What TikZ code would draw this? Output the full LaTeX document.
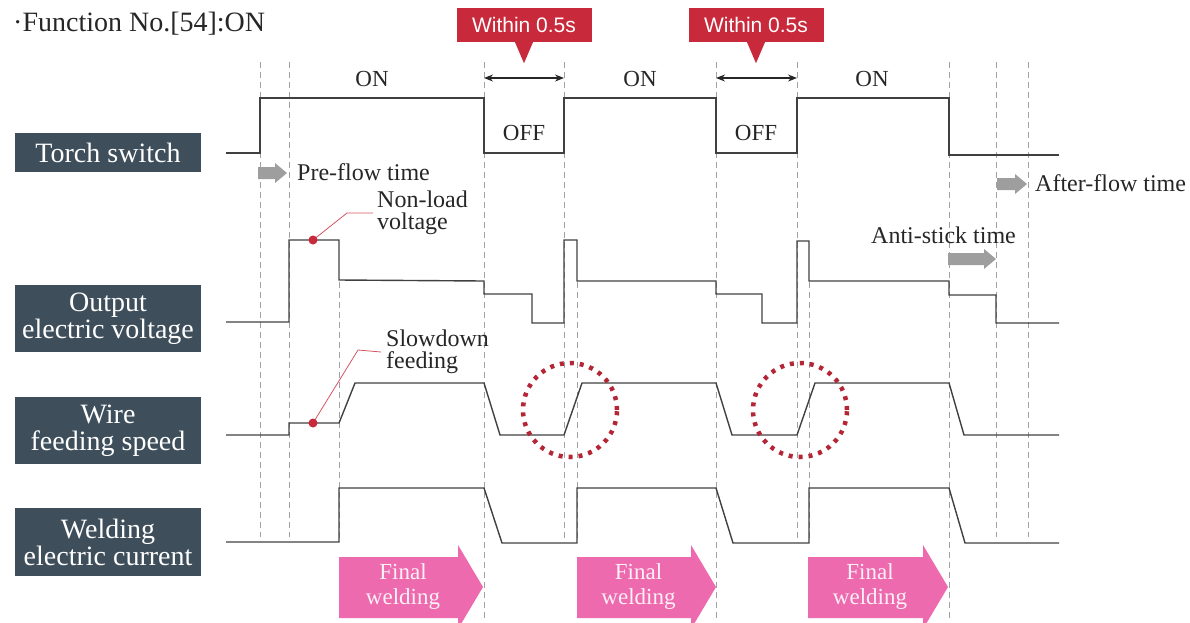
\documentclass[tikz,border=0pt]{standalone}
\usepackage{fontspec}
\setmainfont{Liberation Serif}
\newfontfamily\calloutfont{Liberation Sans}
\usetikzlibrary{arrows.meta,positioning}

\definecolor{slate}{HTML}{3E4E5A}
\definecolor{wred}{HTML}{C82A3C}
\definecolor{wpink}{HTML}{EE6AAE}
\definecolor{wave}{HTML}{404040}
\definecolor{tgrey}{HTML}{A0A0A0}

\tikzset{
  lbl/.style={fill=slate, text=white, align=center, minimum width=186pt, inner sep=0pt, font=\fontsize{28}{27}\selectfont},
  sig/.style={wave, line width=1.4pt},
  tline/.style={tgrey, line width=0.9pt, dash pattern=on 6pt off 4pt},
  txt/.style={inner sep=0pt, text=black!85, font=\fontsize{24}{22}\selectfont},
  warnbox/.style={fill=wred, text=white, minimum width=135pt, minimum height=34pt, inner sep=0pt, font=\calloutfont\fontsize{21}{21}\selectfont},
  garrow/.style={fill=black!38},
  fwtext/.style={text=white!90!wpink, align=center, inner sep=0pt, font=\fontsize{23}{25}\selectfont},
  leadline/.style={draw=wred!80, line width=0.8pt},
  ring/.style={draw=wred!90!black, line width=4.5pt, dash pattern=on 4pt off 6pt},
  twohead/.style={{Stealth[length=9pt,width=7pt]}-{Stealth[length=9pt,width=7pt]}, line width=1.2pt, black!85},
}

\begin{document}
\begin{tikzpicture}[x=1pt,y=-1pt]
\useasboundingbox (0,0) rectangle (1190,622);

\node[txt, anchor=base west, font=\fontsize{28}{28}\selectfont] (title) at (13,31) {·Function No.[54]:ON};

% signal names
\node[lbl, minimum height=39pt] (torch) at (108,152.5) {Torch switch};
\node[lbl, minimum height=67pt] (voltage) at (108,318.5) {Output\\electric voltage};
\node[lbl, minimum height=67pt] (wire) at (108,430.5) {Wire\\feeding speed};
\node[lbl, minimum height=68pt] (current) at (108,542) {Welding\\electric current};

% time marks
\foreach \x/\ya/\yb in {260/62/537, 289/62/537, 339/282/542, 484/62/620, 564/62/542, 577/282/542,
                        716/62/620, 797/62/542, 809/282/542, 949/62/620, 996/62/537, 1028/62/537}
  \draw[tline] (\x,\ya) -- (\x,\yb);

% final welding arrows
\foreach \xa/\xb [count=\i] in {339/483, 577/716, 808/948} {
  \fill[wpink] (\xa,557) -- (\xb-25,557) -- (\xb-25,545) -- (\xb,587) -- (\xb-25,629) -- (\xb-25,618) -- (\xa,618) -- cycle;
  \node[fwtext] (final\i) at ({(\xa+\xb)/2-8},586) {Final\\welding};
}

% waveforms
\draw[sig] (226,153) -- (260,153) -- (260,98) -- (484,98) -- (484,153) -- (564,153) -- (564,98) -- (716,98)
  -- (716,153) -- (797,153) -- (797,98) -- (949,98) -- (949,155) -- (1059,155);
\draw[sig] (226,322) -- (289,322) -- (289,240) -- (339,240) -- (339,280) -- (484,281) -- (484,294) -- (532,294)
  -- (532,323) -- (564,323) -- (564,240) -- (577,240) -- (577,281) -- (716,281) -- (716,294) -- (762,294)
  -- (762,323) -- (797,323) -- (797,241) -- (809,241) -- (809,281) -- (949,281) -- (949,295) -- (996,295)
  -- (996,323) -- (1059,323);
\draw[sig] (226,435) -- (289,435) -- (289,423) -- (339,423) -- (355,383) -- (484,383) -- (500,435) -- (564,435)
  -- (582,383) -- (716,383) -- (732,435) -- (797,435) -- (815,383) -- (949,383) -- (964,435) -- (1059,435);
\draw[sig] (226,542) -- (339,542) -- (339,488) -- (484,488) -- (502,543) -- (577,543) -- (577,488) -- (716,488)
  -- (733,543) -- (809,543) -- (809,488) -- (949,488) -- (965,543) -- (1059,543);

% on / off
\node[txt, font=\fontsize{23}{23}\selectfont] (on1) at (372,79) {ON};
\node[txt, font=\fontsize{23}{23}\selectfont] (on2) at (640,79) {ON};
\node[txt, font=\fontsize{23}{23}\selectfont] (on3) at (872,79) {ON};
\node[txt, font=\fontsize{23}{23}\selectfont] (off1) at (524,133) {OFF};
\node[txt, font=\fontsize{23}{23}\selectfont] (off2) at (756,133) {OFF};

\coordinate (off1l) at (484,78);
\coordinate (off1r) at (564,78);
\coordinate (off2l) at (716,78);
\coordinate (off2r) at (797,78);
\draw[twohead] (off1l) -- (off1r);
\draw[twohead] (off2l) -- (off2r);

\node[warnbox] (within1) at (524,25) {Within 0.5s};
\node[warnbox] (within2) at (756,25) {Within 0.5s};
\fill[wred] ([xshift=-9pt]within1.south) -- ([xshift=9pt]within1.south) -- ([yshift=-21pt]within1.south) -- cycle;
\fill[wred] ([xshift=-9pt]within2.south) -- ([xshift=9pt]within2.south) -- ([yshift=-21pt]within2.south) -- cycle;

% timings
\foreach \xa/\xb/\y in {258/287/173, 997/1027/184, 948/996/259}
  \fill[garrow] (\xa,\y-6) -- (\xb-12,\y-6) -- (\xb-12,\y-10) -- (\xb,\y) -- (\xb-12,\y+10) -- (\xb-12,\y+6) -- (\xa,\y+6) -- cycle;
\node[txt, anchor=west] (preflow) at (297,172) {Pre-flow time};
\node[txt, anchor=west] (afterflow) at (1035,183) {After-flow time};
\node[txt, anchor=west] (antistick) at (871,235) {Anti-stick time};

% notes
\node[txt, align=left, anchor=west] (nonload) at (377,213) {Non-load\\voltage};
\node[txt, align=left, anchor=west] (slowdown) at (386,352) {Slowdown\\feeding};
\coordinate (nl) at (313,240);
\coordinate (sf) at (313,423);
\draw[leadline] (nl) -- (347,213) -- ([xshift=-4pt]nonload.west);
\draw[leadline] (sf) -- (358,350) -- ([xshift=-5pt]slowdown.west);
\fill[wred] (nl) circle (4.5pt);
\fill[wred] (sf) circle (4.5pt);

\draw[ring] (570,410) circle (47pt);
\draw[ring] (800,410) circle (47pt);

\end{tikzpicture}
\end{document}
